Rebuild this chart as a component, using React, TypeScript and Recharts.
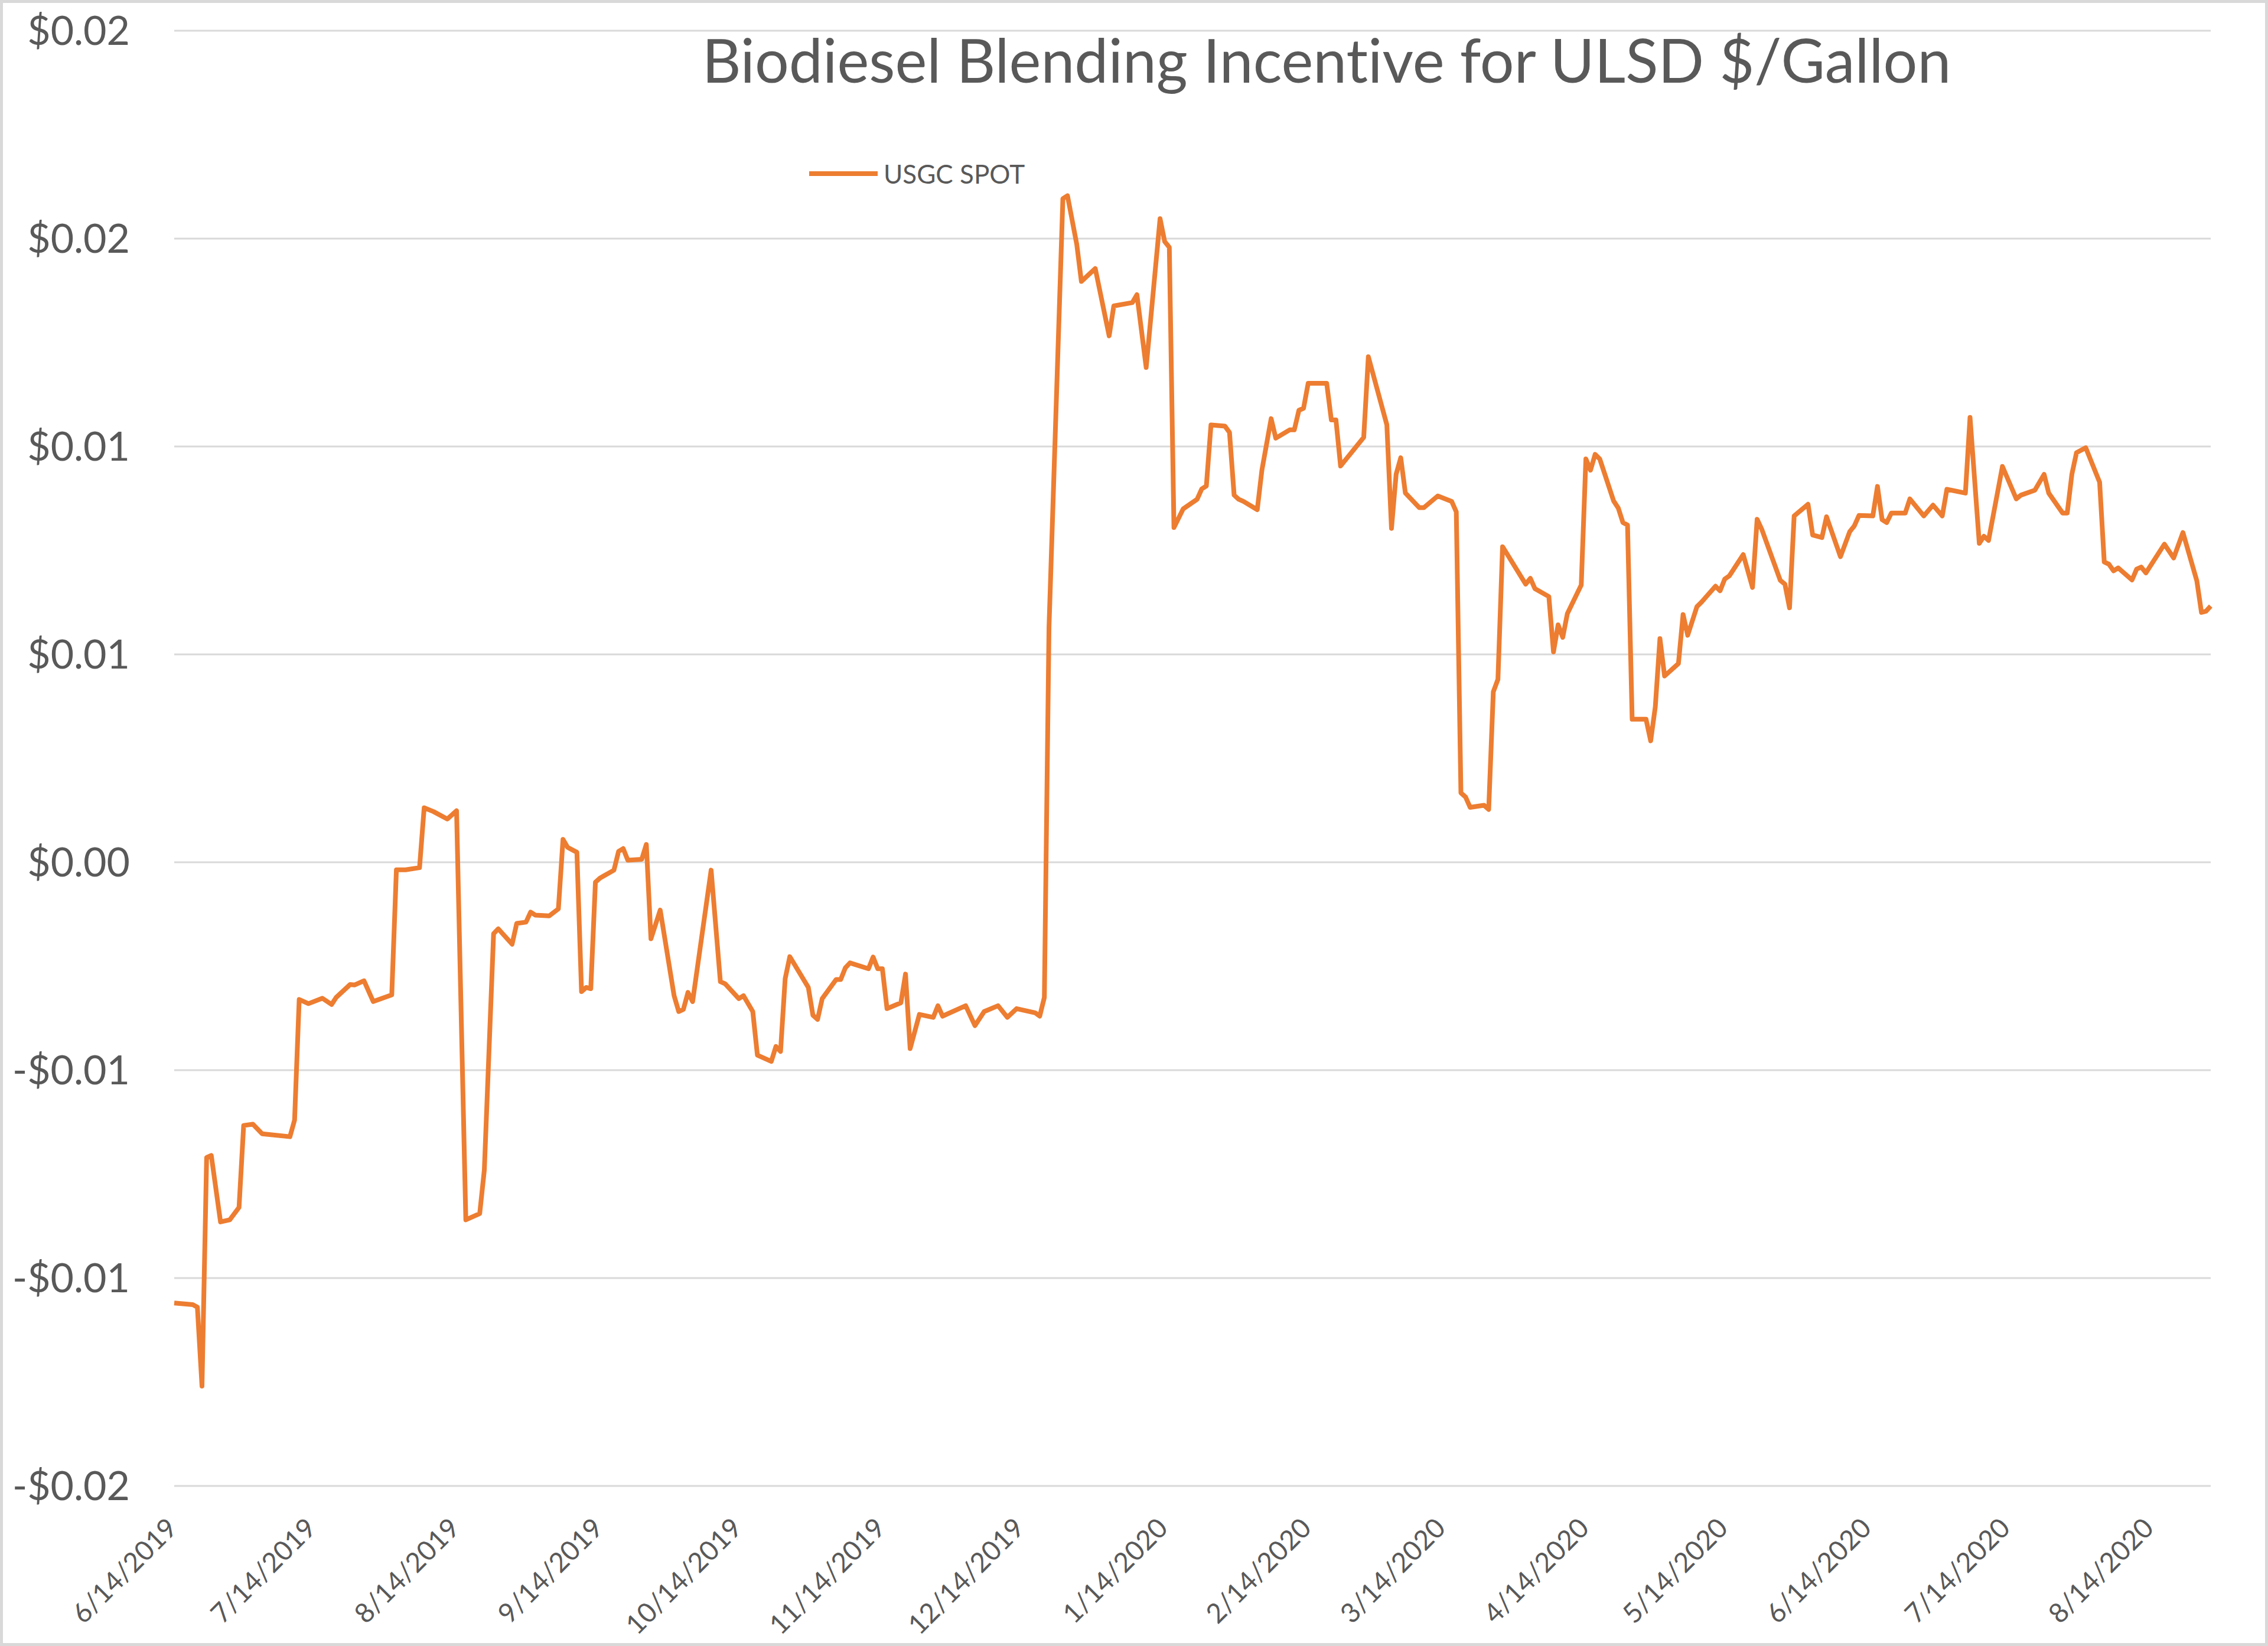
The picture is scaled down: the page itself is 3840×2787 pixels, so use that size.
import React from 'react';
import { LineChart, Line, XAxis, YAxis, CartesianGrid, Legend } from 'recharts';

// Daily USGC spot blending incentive, $/gal
const dates: string[] = [
  '2019-06-14', '2019-06-18', '2019-06-19', '2019-06-20', '2019-06-21', '2019-06-22', '2019-06-24', '2019-06-26',
  '2019-06-28', '2019-06-29', '2019-07-01', '2019-07-03', '2019-07-09', '2019-07-10', '2019-07-11', '2019-07-13',
  '2019-07-16', '2019-07-18', '2019-07-19', '2019-07-22', '2019-07-23', '2019-07-25', '2019-07-27', '2019-07-31',
  '2019-08-01', '2019-08-03', '2019-08-06', '2019-08-07', '2019-08-09', '2019-08-12', '2019-08-14', '2019-08-16',
  '2019-08-19', '2019-08-20', '2019-08-22', '2019-08-23', '2019-08-26', '2019-08-27', '2019-08-29', '2019-08-30',
  '2019-08-31', '2019-09-03', '2019-09-05', '2019-09-06', '2019-09-07', '2019-09-09', '2019-09-10', '2019-09-11',
  '2019-09-12', '2019-09-13', '2019-09-14', '2019-09-17', '2019-09-18', '2019-09-19', '2019-09-20', '2019-09-23',
  '2019-09-24', '2019-09-25', '2019-09-27', '2019-09-30', '2019-10-01', '2019-10-02', '2019-10-03', '2019-10-04',
  '2019-10-08', '2019-10-10', '2019-10-11', '2019-10-14', '2019-10-15', '2019-10-17', '2019-10-18', '2019-10-21',
  '2019-10-22', '2019-10-23', '2019-10-24', '2019-10-25', '2019-10-29', '2019-10-30', '2019-10-31', '2019-11-01',
  '2019-11-04', '2019-11-05', '2019-11-06', '2019-11-07', '2019-11-11', '2019-11-12', '2019-11-13', '2019-11-14',
  '2019-11-15', '2019-11-18', '2019-11-19', '2019-11-20', '2019-11-22', '2019-11-25', '2019-11-26', '2019-11-27',
  '2019-12-02', '2019-12-04', '2019-12-06', '2019-12-09', '2019-12-11', '2019-12-13', '2019-12-17', '2019-12-18',
  '2019-12-19', '2019-12-20', '2019-12-23', '2019-12-24', '2019-12-26', '2019-12-27', '2019-12-30', '2020-01-02',
  '2020-01-03', '2020-01-07', '2020-01-08', '2020-01-10', '2020-01-13', '2020-01-14', '2020-01-15', '2020-01-16',
  '2020-01-18', '2020-01-21', '2020-01-22', '2020-01-23', '2020-01-24', '2020-01-27', '2020-01-28', '2020-01-29',
  '2020-01-30', '2020-01-31', '2020-02-03', '2020-02-04', '2020-02-06', '2020-02-07', '2020-02-10', '2020-02-11',
  '2020-02-12', '2020-02-13', '2020-02-14', '2020-02-18', '2020-02-19', '2020-02-20', '2020-02-21', '2020-02-26',
  '2020-02-27', '2020-03-02', '2020-03-03', '2020-03-04', '2020-03-05', '2020-03-06', '2020-03-09', '2020-03-10',
  '2020-03-13', '2020-03-16', '2020-03-17', '2020-03-18', '2020-03-19', '2020-03-20', '2020-03-23', '2020-03-24',
  '2020-03-25', '2020-03-26', '2020-03-27', '2020-04-01', '2020-04-02', '2020-04-03', '2020-04-06', '2020-04-07',
  '2020-04-08', '2020-04-09', '2020-04-10', '2020-04-13', '2020-04-14', '2020-04-15', '2020-04-16', '2020-04-17',
  '2020-04-20', '2020-04-21', '2020-04-22', '2020-04-23', '2020-04-24', '2020-04-27', '2020-04-28', '2020-04-29',
  '2020-04-30', '2020-05-01', '2020-05-04', '2020-05-05', '2020-05-06', '2020-05-08', '2020-05-09', '2020-05-12',
  '2020-05-13', '2020-05-14', '2020-05-15', '2020-05-18', '2020-05-20', '2020-05-21', '2020-05-22', '2020-05-26',
  '2020-05-27', '2020-05-28', '2020-05-29', '2020-06-01', '2020-06-02', '2020-06-04', '2020-06-05', '2020-06-08',
  '2020-06-10', '2020-06-11', '2020-06-12', '2020-06-15', '2020-06-16', '2020-06-17', '2020-06-18', '2020-06-19',
  '2020-06-22', '2020-06-23', '2020-06-26', '2020-06-28', '2020-06-30', '2020-07-01', '2020-07-05', '2020-07-06',
  '2020-07-08', '2020-07-09', '2020-07-10', '2020-07-13', '2020-07-16', '2020-07-17', '2020-07-20', '2020-07-22',
  '2020-07-23', '2020-07-26', '2020-07-27', '2020-07-28', '2020-07-29', '2020-07-31', '2020-08-03', '2020-08-04',
  '2020-08-05', '2020-08-06', '2020-08-07', '2020-08-10', '2020-08-11', '2020-08-12', '2020-08-13', '2020-08-17',
  '2020-08-19', '2020-08-21', '2020-08-24', '2020-08-25', '2020-08-26', '2020-08-27',
];

const usgcSpot: number[] = [
  -0.0106, -0.01064, -0.0107, -0.0126, -0.0071, -0.00705, -0.00865, -0.0086,
  -0.0083, -0.00633, -0.0063, -0.00653, -0.0066, -0.0062, -0.0033, -0.0034,
  -0.00327, -0.00342, -0.00325, -0.00294, -0.00295, -0.00285, -0.00335, -0.00319,
  -0.00018, -0.00018, -0.00013, 0.00131, 0.00122, 0.00104, 0.00124, -0.0086,
  -0.00845, -0.0074, -0.00172, -0.0016, -0.00197, -0.00147, -0.00144, -0.0012,
  -0.00127, -0.00129, -0.00112, 0.00055, 0.00036, 0.00024, -0.00311, -0.00301,
  -0.00304, -0.00048, -0.00038, -0.00019, 0.00026, 0.00033, 0.00005, 0.00007,
  0.00043, -0.00184, -0.00115, -0.00321, -0.00359, -0.00354, -0.00313, -0.00335,
  -0.00019, -0.00287, -0.00292, -0.00328, -0.00321, -0.00359, -0.00464, -0.00479,
  -0.00443, -0.00455, -0.0028, -0.00227, -0.00301, -0.00368, -0.00378, -0.00328,
  -0.00282, -0.00282, -0.00254, -0.00242, -0.00256, -0.00228, -0.00256, -0.00256,
  -0.00352, -0.00338, -0.00269, -0.00448, -0.00366, -0.00373, -0.00345, -0.0037,
  -0.00345, -0.00393, -0.00359, -0.00345, -0.00373, -0.00352, -0.00362, -0.0037,
  -0.00325, 0.00564, 0.01596, 0.01603, 0.01486, 0.01397, 0.01428, 0.01266,
  0.01338, 0.01346, 0.01365, 0.0119, 0.01548, 0.01493, 0.01479, 0.00805,
  0.0085, 0.00873, 0.00898, 0.00905, 0.01052, 0.01049, 0.01034, 0.00883,
  0.00873, 0.00868, 0.00848, 0.00943, 0.01067, 0.0102, 0.0104, 0.0104,
  0.01087, 0.01092, 0.01152, 0.01152, 0.01064, 0.01064, 0.00953, 0.01022,
  0.01216, 0.01052, 0.00803, 0.00933, 0.00973, 0.00888, 0.00853, 0.00853,
  0.00881, 0.00868, 0.00843, 0.00167, 0.00157, 0.00132, 0.00137, 0.00127,
  0.0041, 0.0044, 0.00759, 0.00669, 0.00683, 0.00658, 0.00639, 0.00506,
  0.00571, 0.00541, 0.00598, 0.00667, 0.0097, 0.00943, 0.00981, 0.0097,
  0.00869, 0.00852, 0.00817, 0.00811, 0.00344, 0.00344, 0.00292, 0.00374,
  0.00538, 0.00448, 0.00478, 0.00596, 0.00546, 0.00615, 0.00626, 0.00664,
  0.00653, 0.00681, 0.00689, 0.0074, 0.00661, 0.00825, 0.00801, 0.00678,
  0.00669, 0.00612, 0.00833, 0.00861, 0.00787, 0.00781, 0.00831, 0.00735,
  0.00795, 0.00809, 0.00834, 0.00833, 0.00904, 0.00824, 0.00817, 0.0084,
  0.0084, 0.00874, 0.00833, 0.00859, 0.00833, 0.00897, 0.00888, 0.0107,
  0.00767, 0.00784, 0.00774, 0.00952, 0.00874, 0.00883, 0.00895, 0.00933,
  0.00888, 0.0084, 0.0084, 0.00933, 0.00985, 0.00997, 0.00914, 0.00722,
  0.00717, 0.00701, 0.00708, 0.00679, 0.00705, 0.0071, 0.00696, 0.00765,
  0.00732, 0.00793, 0.00677, 0.00601, 0.00604, 0.00616,
];

const xTicks: string[] = [
  '2019-06-14', '2019-07-14', '2019-08-14', '2019-09-14', '2019-10-14', '2019-11-14', '2019-12-14', '2020-01-14',
  '2020-02-14', '2020-03-14', '2020-04-14', '2020-05-14', '2020-06-14', '2020-07-14', '2020-08-14',
];

const yTicks: number[] = [-0.015, -0.01, -0.005, 0, 0.005, 0.01, 0.015, 0.02];
const yTickLabels: string[] = ['-$0.02', '-$0.01', '-$0.01', '$0.00', '$0.01', '$0.01', '$0.02', '$0.02'];

const data = dates.map((d, i) => ({ t: Date.parse(d), usgc: usgcSpot[i] }));
const xTickValues = xTicks.map((d) => Date.parse(d));

const FONT = 'Lato, "Open Sans", sans-serif';
const TEXT = '#595959';
const ORANGE = '#ED7D31';

const fmtDate = (v: number) => {
  const d = new Date(v);
  return `${d.getUTCMonth() + 1}/${d.getUTCDate()}/${d.getUTCFullYear()}`;
};

const XTick = (props: any) => {
  const { x, y, payload } = props;
  return (
    <g transform={`translate(${x + 8},${y + 74})`}>
      <text x={0} y={0} textAnchor="end" transform="rotate(-45)" fill={TEXT} fontSize={46} fontFamily={FONT}>
        {fmtDate(payload.value)}
      </text>
    </g>
  );
};

const YTick = (props: any) => {
  const { x, y, payload } = props;
  return (
    <text x={x} y={y} dy="0.36em" textAnchor="end" fill={TEXT} fontSize={68} fontFamily={FONT}>
      {yTickLabels[yTicks.indexOf(payload.value)]}
    </text>
  );
};

const renderLegend = () => (
  <div style={{ display: 'flex', alignItems: 'center', fontFamily: FONT, fontSize: 44, color: TEXT, whiteSpace: 'nowrap' }}>
    <svg width={120} height={20} style={{ marginRight: 8 }}>
      <line x1={2} y1={10} x2={118} y2={10} stroke={ORANGE} strokeWidth={8} />
    </svg>
    USGC SPOT
  </div>
);

export default function App() {
  return (
    <div style={{ position: 'absolute', top: 0, left: 0, width: 3840, height: 2787, background: '#fff' }}>
      <LineChart width={3840} height={2787} data={data} margin={{ top: 52, right: 97, bottom: 71, left: 45 }}>
        <CartesianGrid vertical={false} stroke="#d9d9d9" strokeWidth={3} />
        <XAxis
          dataKey="t"
          type="number"
          scale="time"
          domain={[Date.parse('2019-06-14'), Date.parse('2020-08-27')]}
          ticks={xTickValues}
          tick={<XTick />}
          tickLine={false}
          axisLine={false}
          tickSize={0}
          tickMargin={0}
          height={200}
          interval={0}
        />
        <YAxis
          domain={[-0.015, 0.02]}
          ticks={yTicks}
          tick={<YTick />}
          tickLine={false}
          axisLine={false}
          tickSize={0}
          tickMargin={75}
          width={250}
          interval={0}
        />
        <Legend
          layout="horizontal"
          verticalAlign="middle"
          align="center"
          wrapperStyle={{ top: 268, left: 1368, width: 'auto' }}
          content={renderLegend}
        />
        <Line
          type="linear"
          dataKey="usgc"
          name="USGC SPOT"
          stroke={ORANGE}
          strokeWidth={8}
          strokeLinejoin="round"
          dot={false}
          activeDot={false}
          isAnimationActive={false}
        />
      </LineChart>
      <div
        style={{
          position: 'absolute',
          left: 2246,
          top: 40,
          transform: 'translateX(-50%)',
          whiteSpace: 'nowrap',
          fontFamily: FONT,
          fontSize: 102,
          lineHeight: 1.2,
          color: TEXT,
          fontVariantLigatures: 'none',
        }}
      >
        Biodiesel Blending Incentive for ULSD $/Gallon
      </div>
      <div
        style={{
          position: 'absolute',
          inset: 0,
          border: '5px solid #d9d9d9',
          pointerEvents: 'none',
        }}
      />
    </div>
  );
}
